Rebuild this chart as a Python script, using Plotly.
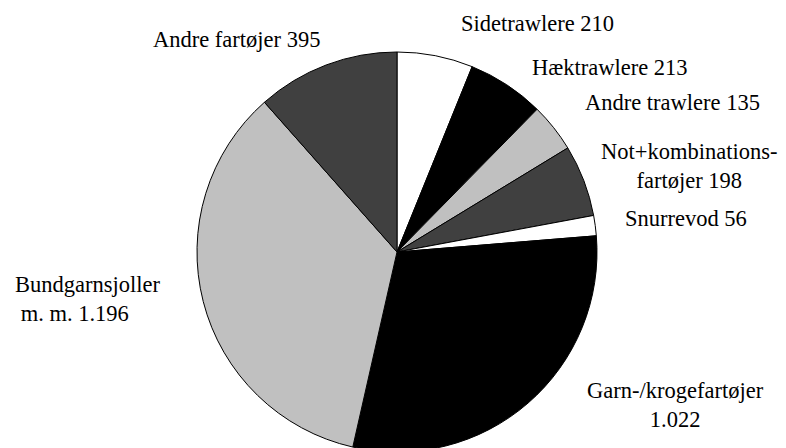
import plotly.graph_objects as go

categories = ["Sidetrawlere", "Hæktrawlere", "Andre trawlere", "Not+kombinationsfartøjer",
              "Snurrevod", "Garn-/krogefartøjer", "Bundgarnsjoller m. m.", "Andre fartøjer"]
values = [210, 213, 135, 198, 56, 1022, 1196, 395]
label_texts = ["Sidetrawlere 210", "Hæktrawlere 213", "Andre trawlere 135",
               "Not+kombinations-<br>fartøjer 198", "Snurrevod 56",
               "Garn-/krogefartøjer<br>1.022", "Bundgarnsjoller<br>&nbsp;m. m. 1.196",
               "Andre fartøjer 395"]
colors = ["#ffffff", "#000000", "#c0c0c0", "#404040", "#ffffff", "#000000", "#c0c0c0", "#404040"]

W, H = 786, 448
OFF = 8  # page body margin offset
# label placement (screen pixels): x, y-center, xanchor, align
label_pos = [
    (459, 23, "left", "left"),
    (530, 68, "left", "left"),
    (583, 103, "left", "left"),
    (689, 166, "center", "center"),
    (623, 218, "left", "left"),
    (675, 405, "center", "center"),
    (13, 299, "left", "left"),
    (151, 39, "left", "left"),
]

cx, cy, r = 397 - OFF, 252 - OFF, 200
fig = go.Figure(go.Pie(
    labels=categories,
    values=values,
    sort=False,
    direction="clockwise",
    rotation=0,
    marker=dict(colors=colors, line=dict(color="#000000", width=1)),
    textinfo="none",
    hoverinfo="label+value",
    showlegend=False,
    domain=dict(x=[(cx - r) / W, (cx + r) / W], y=[1 - (cy + r) / H, 1 - (cy - r) / H]),
))

for txt, (px, py, xa, al) in zip(label_texts, label_pos):
    fig.add_annotation(
        x=(px - OFF) / W, y=1 - (py - OFF) / H, xref="paper", yref="paper",
        text=txt, showarrow=False, xanchor=xa, yanchor="middle", align=al,
        font=dict(family="Liberation Serif", size=22.5, color="#000000"),
    )

fig.update_layout(
    width=W, height=H,
    margin=dict(l=0, r=0, t=0, b=0),
    paper_bgcolor="#ffffff",
    plot_bgcolor="#ffffff",
)

fig.write_html("out.html")
